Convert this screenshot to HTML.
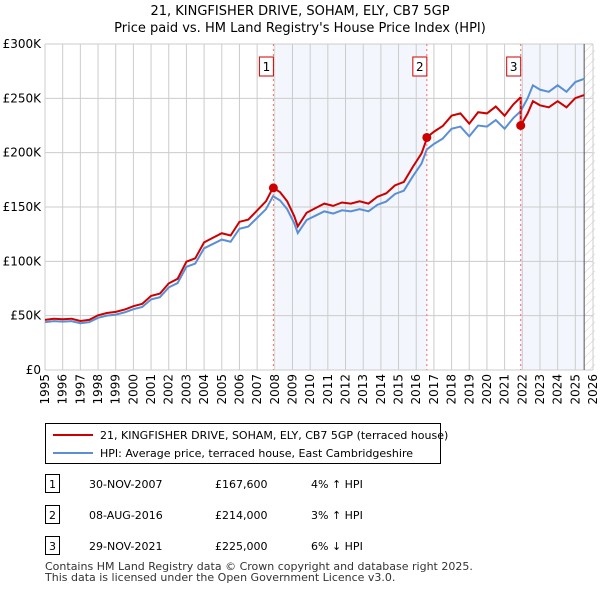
<!DOCTYPE html>
<html><head><meta charset="utf-8"><style>
body{margin:0;background:#fff;font-family:"Liberation Sans","DejaVu Sans",sans-serif;}
svg text{font-family:"DejaVu Sans","Liberation Sans",sans-serif;}
</style></head><body>
<svg width="600" height="590" xmlns="http://www.w3.org/2000/svg" id="chart">
<defs><pattern id="hatch" width="6" height="6" patternUnits="userSpaceOnUse" patternTransform="rotate(45)"><line x1="0" y1="0" x2="0" y2="6" stroke="#ccc" stroke-width="1"/></pattern></defs>
<text x="300" y="15" text-anchor="middle" font-size="13">21, KINGFISHER DRIVE, SOHAM, ELY, CB7 5GP</text>
<text x="300" y="32" text-anchor="middle" font-size="13">Price paid vs. HM Land Registry's House Price Index (HPI)</text>
<g id="plot"></g>
<g id="legend">
<rect x="45.5" y="423.5" width="395" height="40" fill="#fff" stroke="#000"/>
<line x1="53" y1="435" x2="93" y2="435" stroke="#c00" stroke-width="2"/>
<text x="100" y="439" font-size="11">21, KINGFISHER DRIVE, SOHAM, ELY, CB7 5GP (terraced house)</text>
<line x1="53" y1="453" x2="93" y2="453" stroke="#5b8fd4" stroke-width="2"/>
<text x="100" y="457" font-size="11">HPI: Average price, terraced house, East Cambridgeshire</text>
</g>
<g id="table" font-size="11"></g>
<text x="45" y="570" font-size="11" fill="#333">Contains HM Land Registry data © Crown copyright and database right 2025.</text>
<text x="45" y="581" font-size="11" fill="#333">This data is licensed under the Open Government Licence v3.0.</text>
</svg>
<script>
const hpiYears=[1995,1995.5,1996,1996.5,1997,1997.5,1998,1998.5,1999,1999.5,2000,2000.5,2001,2001.5,2002,2002.5,2003,2003.5,2004,2004.5,2005,2005.5,2006,2006.5,2007,2007.5,2007.9,2008.3,2008.7,2009.1,2009.3,2009.8,2010.3,2010.8,2011.3,2011.8,2012.3,2012.8,2013.3,2013.8,2014.3,2014.8,2015.3,2015.8,2016.3,2016.6,2017,2017.5,2018,2018.5,2019,2019.5,2020,2020.5,2021,2021.5,2021.9,2022.3,2022.6,2023,2023.5,2024,2024.5,2025,2025.5];
const hpiValues=[44,45,44.5,45,43,44,48,50,51,53,56,58,65,67,76,80,95,98,112,116,120,118,130,132,140,148,160,156,148,135,126,138,142,146,144,147,146,148,146,152,155,162,165,178,190,203,208,213,222,224,215,225,224,230,222,232,238,250,262,258,256,262,256,265,268];
const saleYears=[2007.92,2016.6,2021.91];
const salePrices=[167600,214000,225000];
const saleLabels=["30-NOV-2007","08-AUG-2016","29-NOV-2021"];
const saleDeltas=["4% ↑ HPI","3% ↑ HPI","6% ↓ HPI"];
const yTicks=[0,50000,100000,150000,200000,250000,300000];
const yTickLabels=["£0","£50K","£100K","£150K","£200K","£250K","£300K"];
const xTicks=[1995,1996,1997,1998,1999,2000,2001,2002,2003,2004,2005,2006,2007,2008,2009,2010,2011,2012,2013,2014,2015,2016,2017,2018,2019,2020,2021,2022,2023,2024,2025,2026];
const NS="http://www.w3.org/2000/svg";
const X0=45,X1=593,Y0=370,Y1=44;
const x=t=>X0+(t-1995)/(2026-1995)*(X1-X0);
const y=v=>Y0-v/300000*(Y0-Y1);
const plot=document.getElementById('plot');
function mk(tag,attrs,parent){const e=document.createElementNS(NS,tag);for(const k in attrs)e.setAttribute(k,attrs[k]);(parent||plot).appendChild(e);return e;}
function hpiAt(t){for(let i=1;i<hpiYears.length;i++){if(t<=hpiYears[i]){const f=(t-hpiYears[i-1])/(hpiYears[i]-hpiYears[i-1]);return (hpiValues[i-1]+f*(hpiValues[i]-hpiValues[i-1]))*1000;}}return hpiValues[hpiValues.length-1]*1000;}
let r=mk('rect',{x:x(saleYears[0])+3,y:Y1,width:x(saleYears[1])-x(saleYears[0])-3,height:Y0-Y1,fill:'#eef2fc',opacity:0.7});

r=mk('rect',{x:x(saleYears[2]),y:Y1,width:x(2025.5)-x(saleYears[2]),height:Y0-Y1,fill:'#eef2fc',opacity:0.7});

r=mk('rect',{x:x(2025.5),y:Y1,width:X1-x(2025.5)+2,height:Y0-Y1,fill:'url(#hatch)'});

xTicks.forEach((t,i)=>{const l=mk('line',{x1:x(t),x2:x(t),y1:Y1,y2:Y0,stroke:'#ccc'});
const tx=mk('text',{x:0,y:0,'text-anchor':'end','font-size':12,transform:'translate('+(x(t)+4)+','+(Y0+4)+') rotate(-90)'});tx.textContent=t;});
yTicks.forEach((v,i)=>{const l=mk('line',{x1:X0,x2:X1,y1:y(v),y2:y(v),stroke:'#ccc'});
const tx=mk('text',{x:X0-4,y:y(v)+4,'text-anchor':'end','font-size':12});tx.textContent=yTickLabels[i];});
const b=mk('line',{x1:x(2025.5),x2:x(2025.5),y1:Y1,y2:Y0,stroke:'#555'});
const hp=hpiYears.map((t,i)=>x(t)+','+y(hpiValues[i]*1000)).join(' ');
const hl=mk('polyline',{points:hp,fill:'none',stroke:'#5b8fd4','stroke-width':2});

let pts=[];
hpiYears.forEach((t,i)=>{let k=0;for(let j=0;j<saleYears.length;j++)if(t>=saleYears[j])k=j;const ratio=salePrices[k]/hpiAt(saleYears[k]);pts.push(x(t)+','+y(hpiValues[i]*1000*ratio));
 for(let j=0;j<saleYears.length;j++){if(i+1<hpiYears.length&&saleYears[j]>t&&saleYears[j]<=hpiYears[i+1]){const rb=salePrices[k]/hpiAt(saleYears[k]);pts.push(x(saleYears[j])+','+y(hpiAt(saleYears[j])*rb));pts.push(x(saleYears[j])+','+y(salePrices[j]));}}});
const pl=mk('polyline',{points:pts.join(' '),fill:'none',stroke:'#c00','stroke-width':2});

saleYears.forEach((t,i)=>{const l=mk('line',{x1:x(t),x2:x(t),y1:Y1,y2:Y0,stroke:'#f66','stroke-dasharray':'2,3'});
const c=mk('circle',{cx:x(t),cy:y(salePrices[i]),r:4.5,fill:'#c00'});
const bx=mk('rect',{x:x(t)-14,y:57,width:14,height:19,fill:'#fff',stroke:'#c00'});
const tx=mk('text',{x:x(t)-7,y:71,'text-anchor':'middle','font-size':12});tx.textContent=i+1;});
const tb=document.getElementById('table');
saleYears.forEach((t,i)=>{const yy=484+i*31;
const bx=mk('rect',{x:45.5,y:yy-9.5,width:14,height:18,fill:'#fff',stroke:'#000'},tb);
const a=mk('text',{x:52.5,y:yy+4,'text-anchor':'middle'},tb);a.textContent=i+1;
const d=mk('text',{x:89,y:yy+4},tb);d.textContent=saleLabels[i];
const p=mk('text',{x:215,y:yy+4},tb);p.textContent='£'+salePrices[i].toLocaleString('en-GB');
const h=mk('text',{x:311,y:yy+4},tb);h.textContent=saleDeltas[i];});
</script>
</body></html>
